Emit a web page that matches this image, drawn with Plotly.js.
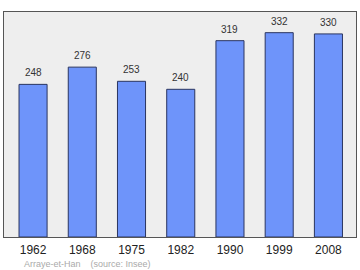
<!DOCTYPE html>
<html><head><meta charset="utf-8">
<script src="https://cdn.plot.ly/plotly-3.0.1.min.js"></script>
<style>html,body{margin:0;padding:0;background:#fff}#chart{width:360px;height:270px}</style>
</head><body><div id="chart"></div>
<script>
const years = ["1962","1968","1975","1982","1990","1999","2008"];
const population = [248, 276, 253, 240, 319, 332, 330];
const sourceText = "Arraye-et-Han    (source: Insee)";

const trace = {
  type: "bar",
  x: years,
  y: population,
  width: 0.57,
  marker: {color: "#6e94fa", line: {color: "#2a3560", width: 1}},
  hoverinfo: "none"
};
const anns = years.map((yr, i) => ({
  x: i, y: population[i], xref: "x", yref: "y",
  text: String(population[i]), showarrow: false,
  yanchor: "bottom", yshift: 4,
  font: {family: "Liberation Sans, Arial, sans-serif", size: 10, color: "#333"}
}));
anns.push({
  xref: "paper", yref: "paper", x: 0.05, y: -0.118, xanchor: "left", yanchor: "middle",
  text: sourceText, showarrow: false,
  font: {family: "Liberation Sans, Arial, sans-serif", size: 9, color: "#aaaaaa"}
});
const layout = {
  width: 360, height: 270,
  margin: {l: 4, r: 4, t: 12, b: 33},
  paper_bgcolor: "#ffffff",
  plot_bgcolor: "#eeeeee",
  showlegend: false,
  xaxis: {
    type: "category", range: [-0.59, 6.56],
    showline: true, mirror: true, linecolor: "#555", linewidth: 1,
    ticks: "", showgrid: false, ticklabelstandoff: 2,
    tickfont: {family: "Liberation Sans, Arial, sans-serif", size: 12, color: "#222"}
  },
  yaxis: {
    range: [0, 365.6], showticklabels: false, ticks: "",
    showgrid: false, zeroline: false,
    showline: true, mirror: true, linecolor: "#555", linewidth: 1
  },
  annotations: anns
};
Plotly.newPlot("chart", [trace], layout, {staticPlot: true});
</script></body></html>
